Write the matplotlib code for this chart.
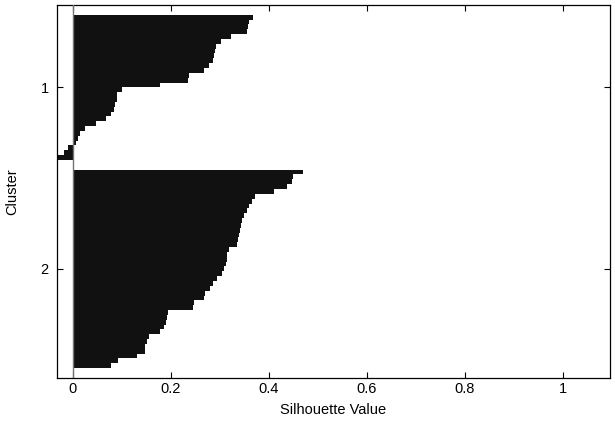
import matplotlib
matplotlib.use('Agg')
import matplotlib.pyplot as plt
import numpy as np

plt.rcParams['font.family'] = ['Liberation Sans', 'DejaVu Sans']

# silhouette values per cluster, sorted descending
cluster1 = [0.368, 0.360, 0.358, 0.356, 0.323, 0.303, 0.292, 0.290, 0.288, 0.286,
            0.279, 0.269, 0.237, 0.236, 0.178, 0.100, 0.091, 0.090, 0.086, 0.085,
            0.078, 0.069, 0.048, 0.025, 0.015, 0.011, 0.007, -0.010, -0.018, -0.031]
cluster2 = [0.471, 0.450, 0.448, 0.437, 0.410, 0.372, 0.367, 0.359, 0.355, 0.350,
            0.345, 0.343, 0.342, 0.339, 0.338, 0.335, 0.320, 0.316, 0.315, 0.312,
            0.309, 0.305, 0.295, 0.287, 0.280, 0.270, 0.268, 0.248, 0.246, 0.194,
            0.193, 0.190, 0.186, 0.178, 0.156, 0.151, 0.148, 0.147, 0.132, 0.093,
            0.078]
clusters = [cluster1, cluster2]
cluster_labels = ['1', '2']

# layout rows like MATLAB's silhouette: blank rows between clusters
space = 2
ypos = []
vals = []
ticks = []
cnt = space
for c in clusters:
    rows = np.arange(cnt + 1, cnt + len(c) + 1)
    ypos.extend(rows)
    vals.extend(c)
    ticks.append((rows[0] + rows[-1]) / 2)
    cnt += len(c) + space

fig = plt.figure(figsize=(6.15, 4.24), dpi=100)
ax = fig.add_axes([0.0927, 0.109, 0.8993, 0.879])

ax.barh(ypos, vals, height=1.0, color='#111111', edgecolor='none')
ax.axvline(0, color='0.45', lw=1.0, zorder=3)

ax.set_xlim(-0.032, 1.097)
ax.set_ylim(cnt + 0.5, 0.5)
ax.set_xticks([0, 0.2, 0.4, 0.6, 0.8, 1])
ax.set_xticklabels(['0', '0.2', '0.4', '0.6', '0.8', '1'])
ax.set_yticks(ticks)
ax.set_yticklabels(cluster_labels)
ax.tick_params(direction='in', length=4, width=0.8, top=True, right=True,
               labelsize=10.5)
ax.tick_params(axis='x', pad=3)
ax.tick_params(axis='y', pad=6)
for s in ax.spines.values():
    s.set_linewidth(0.9)

ax.set_xlabel('Silhouette Value', fontsize=10.5, labelpad=5)
ax.set_ylabel('Cluster', fontsize=10.5, labelpad=15)

fig.savefig('out.png', dpi=100)
